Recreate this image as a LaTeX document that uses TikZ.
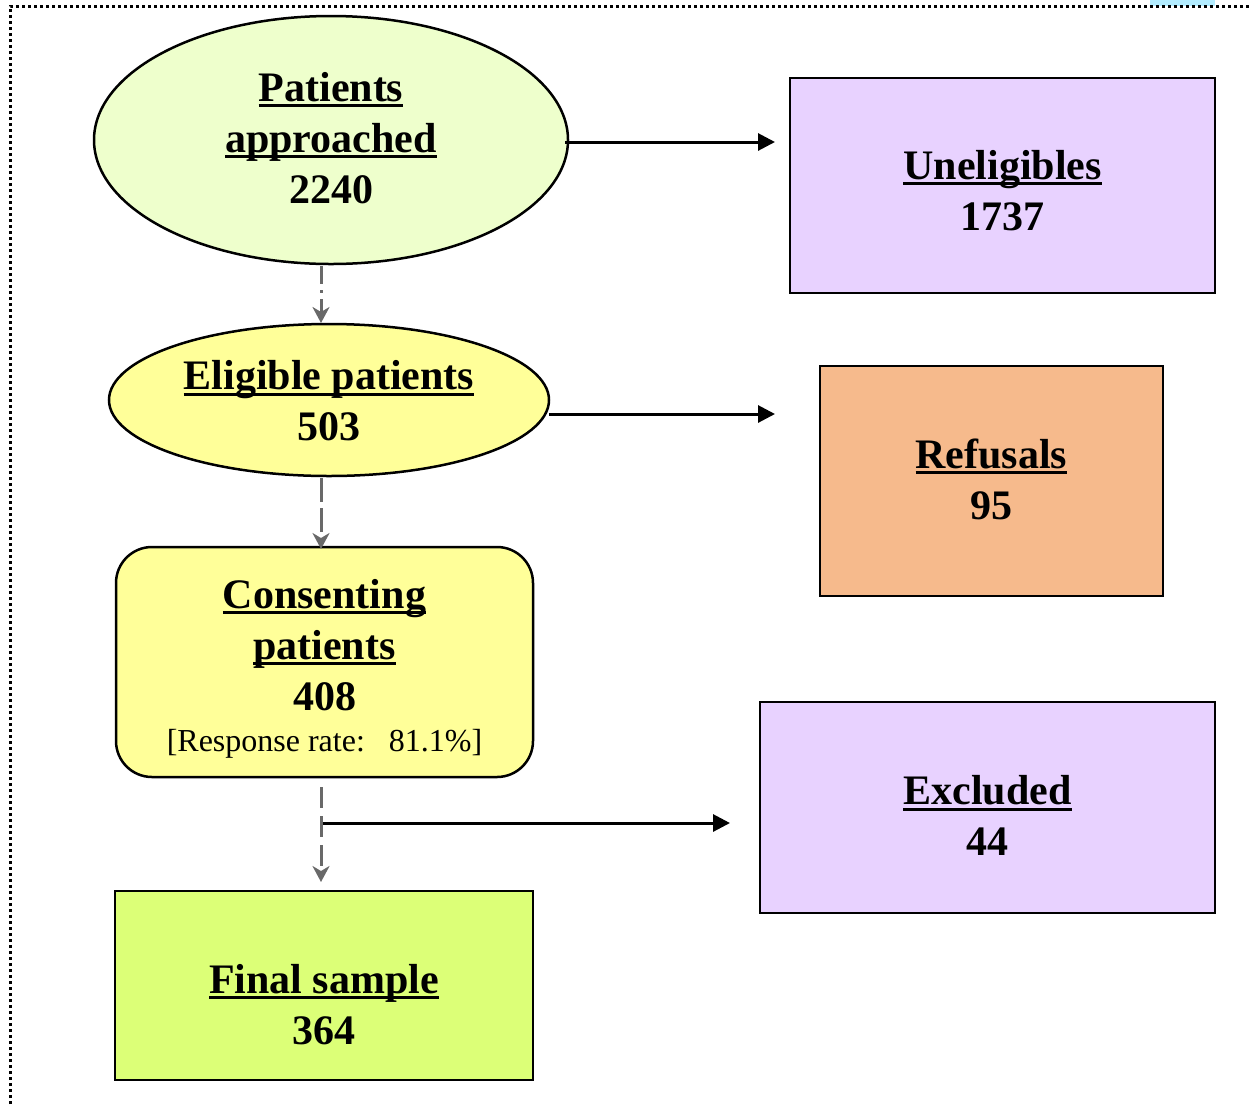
\documentclass[tikz,border=0pt]{standalone}
\usepackage{fontspec}
\setmainfont{Liberation Serif}
\usetikzlibrary{arrows.meta,shapes.geometric,calc}
\definecolor{ellA}{RGB}{238,255,204}
\definecolor{yel}{RGB}{255,255,153}
\definecolor{lime}{RGB}{220,255,119}
\definecolor{lav}{RGB}{232,210,255}
\definecolor{peach}{RGB}{246,186,140}
\definecolor{dgray}{RGB}{105,105,105}
\newcommand\myul[1]{\setbox0\hbox{#1}\rlap{\rule[-6pt]{\wd0}{3pt}}\box0}
\tikzset{
  shp/.style={draw=black, line width=2.5pt, align=center, inner sep=0pt},
  lbl/.style={align=center, inner sep=0pt, font=\fontsize{42}{51}\selectfont\bfseries},
  ell/.style={shp, ellipse},
  boxx/.style={shp, rectangle},
  arr/.style={draw=black, line width=3pt, -{Triangle[length=17pt,width=17pt]}},
  garr/.style={draw=dgray, line width=3pt, -{Stealth[length=16pt,width=17pt,inset=5pt]}},
  small/.style={font=\fontsize{32}{36}\selectfont\mdseries}
}
\begin{document}
\begin{tikzpicture}[x=1pt,y=-1pt]
\useasboundingbox (0,0) rectangle (1250,1104);
% stray blue blob top right
\fill[blue!25!cyan!30!white] (1150,0) rectangle (1215,6);
% dotted frame
\draw[line width=3pt, dash pattern=on 3pt off 3pt] (10,1104) -- (10,6) -- (1250,6);
% shapes
\node[ell, fill=ellA, minimum width=474pt, minimum height=248pt] (app) at (331,140) {};
\node[ell, fill=yel, minimum width=440pt, minimum height=152pt] (elig) at (329,400) {};
\node[boxx, fill=yel, rounded corners=36pt, minimum width=417pt, minimum height=230pt] (cons) at (324.5,662) {};
\node[boxx, fill=lime, minimum width=418pt, minimum height=189pt] (final) at (324,985.5) {};
\node[boxx, fill=lav, minimum width=425pt, minimum height=215pt] (unel) at (1002.5,185.5) {};
\node[boxx, fill=peach, minimum width=343pt, minimum height=230pt] (ref) at (991.5,481) {};
\node[boxx, fill=lav, minimum width=455pt, minimum height=211pt] (exc) at (987.5,807.5) {};
% labels
\node[lbl] (app-t) at ($(app.center)+(0,-2)$) {\myul{Patients}\\\myul{approached}\\2240};
\node[lbl] (elig-t) at ($(elig.center)+(0,1)$) {\myul{Eligible patients}\\503};
\node[lbl, anchor=north] (cons-t) at (324.5,579) {\myul{Consenting}\\\myul{patients}\\408};
\node[small, anchor=north] (resp) at (324.5,726) {[Response rate:\ \ \ 81.1\%]};
\node[lbl] (final-t) at ($(final.center)+(0,19)$) {\myul{Final sample}\\364};
\node[lbl] (unel-t) at ($(unel.center)+(0,5)$) {\myul{Uneligibles}\\1737};
\node[lbl] (ref-t) at ($(ref.center)+(0,-2)$) {\myul{Refusals}\\95};
\node[lbl] (exc-t) at ($(exc.center)+(0,8)$) {\myul{Excluded}\\44};
% coordinates for connector ends
\coordinate (a1) at (775,142);
\coordinate (a2s) at (549,414);
\coordinate (a2) at (775,414);
\coordinate (split) at (321,823);
\coordinate (a3) at (730,823);
% solid arrows
\draw[arr] (app.east |- a1) ++(-4,0) -- (a1);
\draw[arr] (a2s) -- (a2);
\draw[arr] (split) -- (a3);
% dashed grey arrows
\draw[garr, dash pattern=on 18pt off 6pt on 3pt off 6pt] (321,266) -- (321,323);
\draw[garr, dash pattern=on 24pt off 6pt] (321,478) -- (321,549);
\draw[garr, dash pattern=on 21pt off 8pt] (321,787) -- (321,882);
\end{tikzpicture}
\end{document}
